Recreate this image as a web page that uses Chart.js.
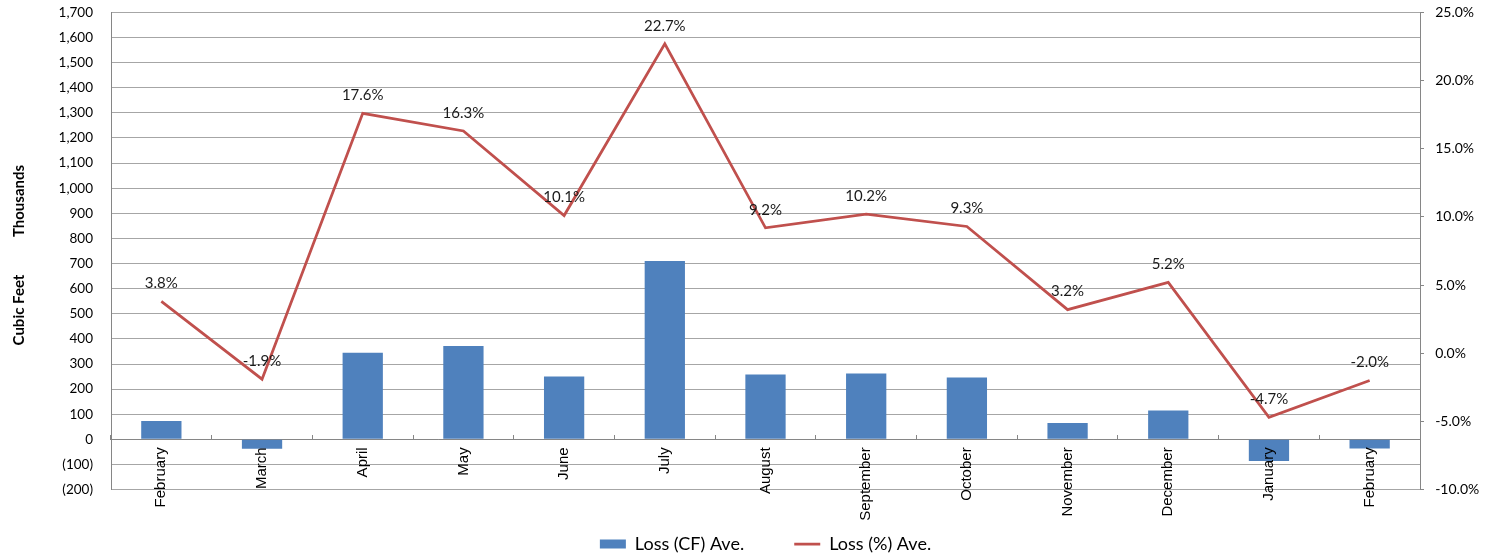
<!DOCTYPE html>
<html>
<head>
<meta charset="utf-8">
<script src="https://cdn.jsdelivr.net/npm/chart.js@4.4.1/dist/chart.umd.min.js"></script>
<style>
  html, body { margin: 0; padding: 0; background: #fff; }
  #wrap { width: 1493px; height: 559px; }
</style>
</head>
<body>
<div id="wrap"><canvas id="can"></canvas></div>
<script>
var months = ['February', 'March', 'April', 'May', 'June', 'July', 'August',
              'September', 'October', 'November', 'December', 'January', 'February'];
var lossCF = [73, -37, 345, 372, 250, 710, 258, 262, 246, 65, 115, -86, -36];
var lossPct = [3.8, -1.9, 17.6, 16.3, 10.1, 22.7, 9.2, 10.2, 9.3, 3.2, 5.2, -4.7, -2.0];

var gridGray = '#a6a6a6';
var axisGray = '#868686';

function thousands(v) {
    var s = Math.abs(v).toLocaleString('en-US');
    return v < 0 ? '(' + s + ')' : s;
}

// percent labels above the line points + the two y axis titles
var extras = {
    id: 'extras',
    afterDatasetsDraw: function (chart) {
        var ctx = chart.ctx;
        var meta = chart.getDatasetMeta(1);
        ctx.save();
        ctx.font = '15px Lato';
        ctx.fillStyle = '#1a1a1a';
        ctx.textAlign = 'center';
        ctx.textBaseline = 'middle';
        meta.data.forEach(function (pt, i) {
            ctx.fillText(lossPct[i].toFixed(1) + '%', pt.x, pt.y - 18);
        });
        ctx.font = 'bold 15px Lato';
        ctx.fillStyle = '#000';
        ctx.translate(19, 0);
        ctx.rotate(-Math.PI / 2);
        ctx.fillText('Thousands', -201, 0);
        ctx.fillText('Cubic Feet', -310, 0);
        ctx.restore();
    }
};

var ctx = document.getElementById('can').getContext('2d');

window.myBar = new Chart(ctx, {
    type: 'bar',
    data: {
        labels: months,
        datasets: [
            {
                label: 'Loss (CF) Ave.          ',
                data: lossCF,
                backgroundColor: '#4f81bd',
                borderColor: '#4f81bd',
                borderWidth: 0,
                categoryPercentage: 1,
                barPercentage: 0.4,
                pointStyle: 'rect',
                yAxisID: 'y',
                order: 2
            },
            {
                type: 'line',
                label: 'Loss (%) Ave.',
                data: lossPct,
                borderColor: '#c0504d',
                backgroundColor: '#c0504d',
                borderWidth: 2.75,
                pointRadius: 0,
                pointStyle: 'line',
                tension: 0,
                yAxisID: 'y1',
                order: 1
            }
        ]
    },
    options: {
        responsive: true,
        maintainAspectRatio: false,
        animation: false,
        layout: { padding: { top: 0, left: 0, right: 0, bottom: -4 } },
        plugins: {
            tooltip: { enabled: false },
            legend: {
                position: 'bottom',
                fullSize: false,
                title: { display: true, text: ' ', font: { size: 12 }, padding: { top: 27, bottom: 0 } },
                labels: {
                    usePointStyle: true,
                    pointStyleWidth: 26,
                    boxHeight: 9,
                    padding: 4,
                    color: '#000',
                    font: { family: 'Lato', size: 18 },
                    sort: function (a, b) { return a.datasetIndex - b.datasetIndex; }
                }
            }
        },
        scales: {
            x: {
                position: { y: 0 },
                offset: true,
                grid: {
                    offset: true,
                    drawOnChartArea: false,
                    drawTicks: true,
                    tickLength: -5,
                    color: axisGray
                },
                border: { display: true, color: axisGray },
                ticks: {
                    z: 1,
                    autoSkip: false,
                    minRotation: 90,
                    maxRotation: 90,
                    padding: 13,
                    color: '#000',
                    font: { family: 'Liberation Sans', size: 15 }
                }
            },
            y: {
                position: 'left',
                min: -200,
                max: 1700,
                ticks: {
                    stepSize: 100,
                    padding: 4,
                    color: '#000',
                    font: { family: 'Lato', size: 13.5 },
                    callback: function (v) { return thousands(v); }
                },
                grid: { color: gridGray, drawTicks: true, tickLength: 14, tickColor: 'rgba(0,0,0,0)' },
                border: { color: axisGray },
                afterFit: function (s) { s.width = 111; }
            },
            y1: {
                position: 'right',
                min: -10,
                max: 25,
                ticks: {
                    stepSize: 5,
                    padding: 4,
                    color: '#000',
                    font: { family: 'Lato', size: 14 },
                    callback: function (v) { return '  ' + v.toFixed(1) + '%'; }
                },
                grid: { drawOnChartArea: false, tickLength: 4, color: axisGray },
                border: { color: axisGray },
                afterFit: function (s) { s.width = 73; }
            }
        }
    },
    plugins: [extras]
});
</script>
</body>
</html>
